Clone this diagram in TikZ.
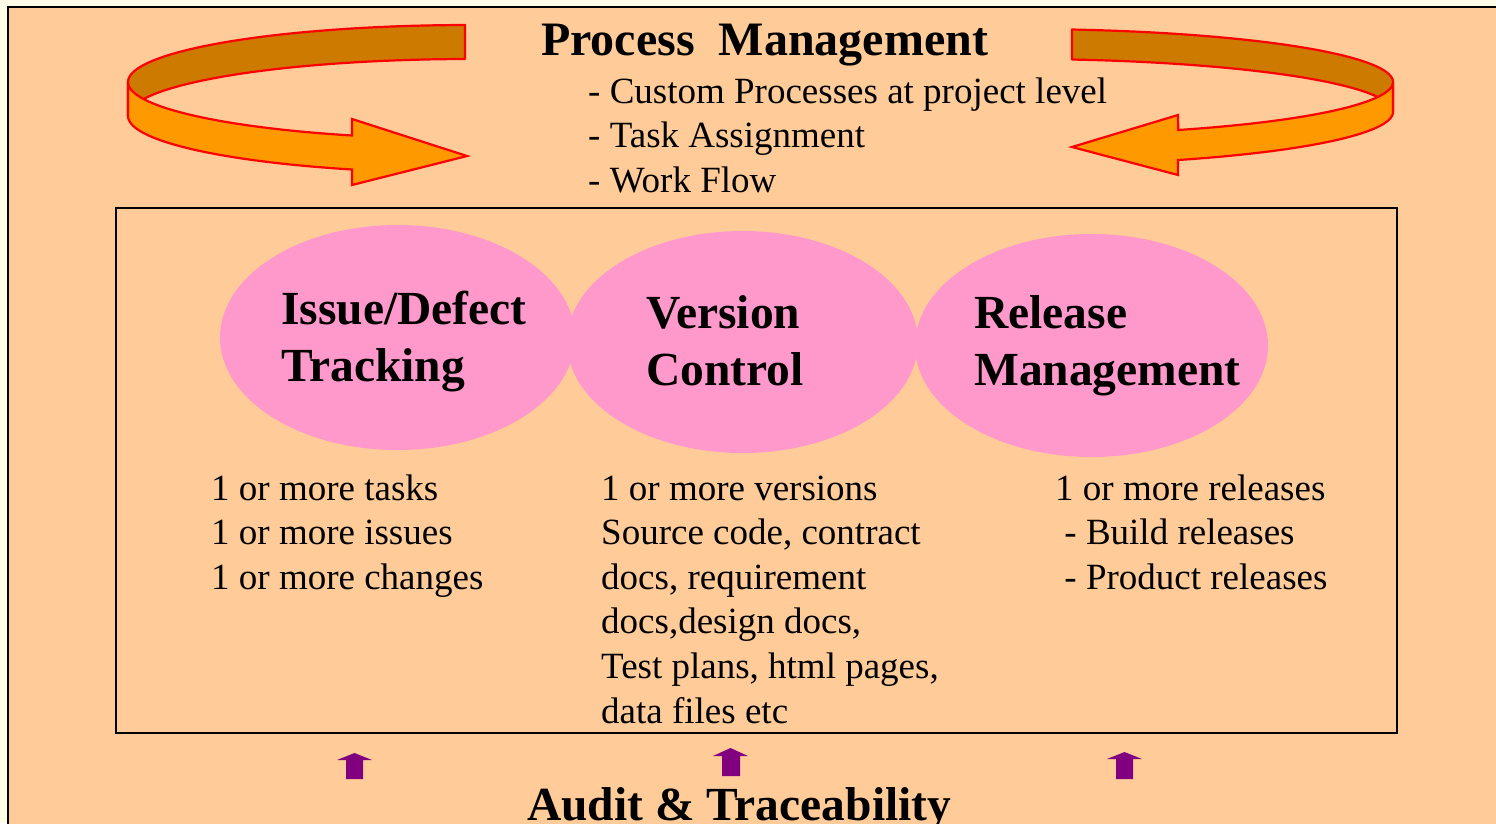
\documentclass[tikz,border=0pt]{standalone}
\usepackage{fontspec}
\setmainfont{Liberation Serif}
\usetikzlibrary{shapes.geometric}
\definecolor{cream}{RGB}{255,253,232}
\definecolor{peach}{RGB}{255,204,153}
\definecolor{pinkE}{RGB}{255,153,204}
\definecolor{darkor}{RGB}{204,122,0}
\definecolor{lightor}{RGB}{255,153,0}
\definecolor{purp}{RGB}{128,0,128}
\newcommand\mylines[1]{\begin{tabular}[t]{@{}l@{}}#1\end{tabular}}
\tikzset{
  ribback/.style={fill=darkor, draw=red, line width=2.2pt, line join=round},
  ribfront/.style={fill=lightor, draw=red, line width=2.2pt, line join=miter},
  blob/.style={ellipse, fill=pinkE, draw=none, inner sep=0pt},
  txt/.style={anchor=base west, inner sep=0pt, font=\fontsize{37}{44.6}\selectfont},
  btxt/.style={anchor=base west, inner sep=0pt, font=\fontsize{47.5}{57}\selectfont\bfseries},
  uparrow/.style={fill=purp}
}
\begin{document}
\begin{tikzpicture}[x=1pt,y=-1pt]
\useasboundingbox (0,0) rectangle (1496,823);
\fill[cream] (0,0) rectangle (1496,823);
\draw[line width=2.6pt, fill=peach] (8,7) rectangle (1520,850);

% left ribbon arrow
\path[ribback] plot[domain=269.16:180, samples=50] ({470+342*cos(\x)},{82+57*sin(\x)})
  -- plot[domain=180:269.16, samples=50] ({470+342*cos(\x)},{82+57*sin(\x)+34}) -- cycle;
\path[ribfront] plot[domain=180:110.2, samples=50] ({470+342*cos(\x)},{82+57*sin(\x)})
  -- (352,119) -- (467,156) -- (352,185) -- (352,169.5)
  -- plot[domain=110.2:180, samples=50] ({470+342*cos(\x)},{82+57*sin(\x)+34}) -- cycle;

% right ribbon arrow
\path[ribback] plot[domain=278:360, samples=50] ({1020+373*cos(\x)},{82+53*sin(\x)})
  -- plot[domain=360:278, samples=50] ({1020+373*cos(\x)},{82+53*sin(\x)+30}) -- cycle;
\path[ribfront] plot[domain=0:64.9, samples=50] ({1020+373*cos(\x)},{82+53*sin(\x)})
  -- (1178,115) -- (1072,147) -- (1178,175) -- (1178,160)
  -- plot[domain=64.9:0, samples=50] ({1020+373*cos(\x)},{82+53*sin(\x)+30}) -- cycle;

% title and list
\node[anchor=base west, inner sep=0pt, font=\fontsize{48}{57}\selectfont\bfseries] (title) at (541,55) {Process\ \ Management};
\node[txt] (plist) at (588,103) {\mylines{- Custom Processes at project level\\- Task Assignment\\- Work Flow}};

% inner frame
\draw[line width=2pt] (116,207.5) rectangle (1396.5,733);

% ellipses
\node[blob, minimum width=355pt, minimum height=225pt] (e1) at (397.5,337.5) {};
\node[blob, minimum width=351pt, minimum height=222pt] (e2) at (742.5,342) {};
\node[blob, minimum width=353pt, minimum height=223pt] (e3) at (1091.5,345.5) {};

\node[btxt] (t1) at (281,324) {\mylines{Issue/Defect\\Tracking}};
\node[btxt] (t2) at (646,328) {\mylines{Version\\Control}};
\node[btxt] (t3) at (974,328) {\mylines{Release\\Management}};

% details
\node[txt] (d1) at (211,500) {\mylines{1 or more tasks\\1 or more issues\\1 or more changes}};
\node[txt] (d2) at (601,500) {\mylines{1 or more versions\\Source code, contract\\docs, requirement\\docs,design docs,\\Test plans, html pages,\\data files etc}};
\node[txt] (d3) at (1055,500) {\mylines{1 or more releases\\\ - Build releases\\\ - Product releases}};

% small purple arrows
\fill[uparrow] (337,760) -- (354.5,753) -- (372,760) -- (363,760) -- (363,779) -- (346,779) -- (346,760) -- cycle;
\fill[uparrow] (713,756) -- (730.5,748) -- (748,756) -- (740,756) -- (740,776) -- (722,776) -- (722,756) -- cycle;
\fill[uparrow] (1107,759) -- (1124.5,752) -- (1142,759) -- (1133,759) -- (1133,779) -- (1116,779) -- (1116,759) -- cycle;

\node[anchor=base west, inner sep=0pt, font=\fontsize{47.5}{57}\selectfont\bfseries] (audit) at (527,820) {Audit \& Traceability};
\end{tikzpicture}
\end{document}
